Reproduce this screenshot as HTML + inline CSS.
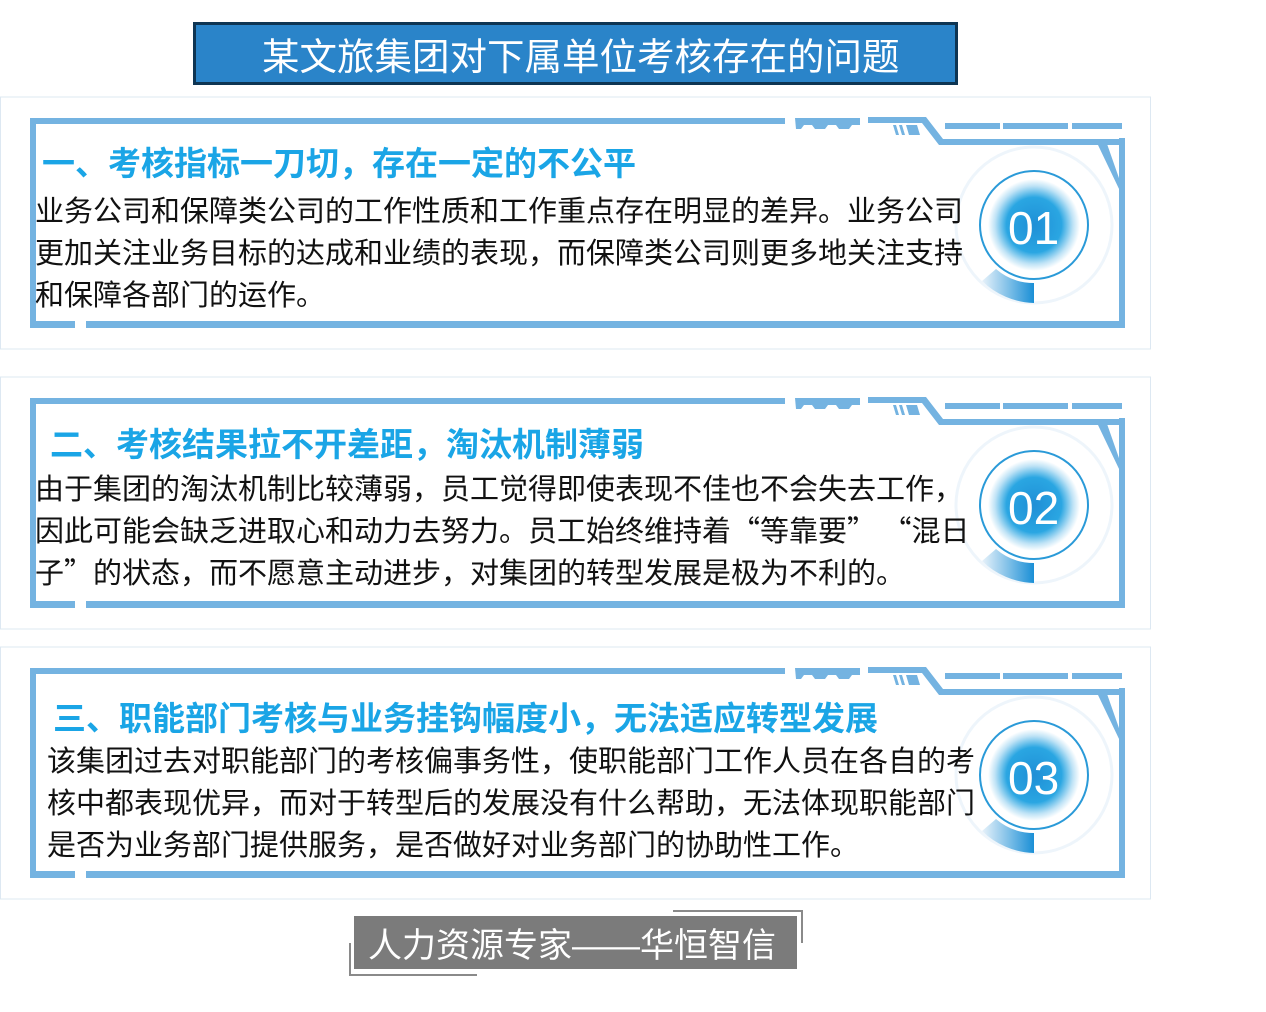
<!DOCTYPE html>
<html><head><meta charset="utf-8"><style>
body{margin:0;width:1266px;height:1012px;background:#fff;position:relative;overflow:hidden;font-family:"Liberation Sans","Noto Sans CJK SC",sans-serif}
.t{position:absolute;white-space:nowrap}
.h{font-weight:bold;color:#1aa5e6;font-size:33px}
.b{color:#111;font-size:29px;line-height:42px}
.q{font-family:"Noto Sans CJK SC",sans-serif}
</style></head><body>
<svg width="1266" height="1012" style="position:absolute;left:0;top:0">
<defs>
<radialGradient id="g" cx="50%" cy="50%" r="50%"><stop offset="0" stop-color="#1f8fd6"/><stop offset="0.6" stop-color="#2aa6e2"/><stop offset="0.85" stop-color="#bfe3f6"/><stop offset="1" stop-color="#ffffff"/></radialGradient>
<linearGradient id="arc" x1="0" y1="0" x2="1" y2="0"><stop offset="0" stop-color="#e8f2fa"/><stop offset="1" stop-color="#1a8fd6"/></linearGradient>
<g id="panel">
<rect x="0.5" y="-21" width="1150" height="252" fill="none" stroke="#dde8f2"/>
<g fill="#74b3e1">
<rect x="30" y="0" width="755" height="6"/>
<rect x="30" y="0" width="6" height="208"/>
<rect x="30" y="203" width="45" height="7"/>
<rect x="86" y="203" width="1038" height="7"/>
<path d="M795 0h65v7h-8l-3 4h-10l-3-4h-8l-3 4h-10l-3-4h-8l-3 4h-5z"/>
<path d="M868 -1h58l17 22h177v6h-181l-17-22h-54z"/>
<rect x="945" y="5" width="55" height="6"/>
<rect x="1003" y="5" width="65" height="6"/>
<rect x="1072" y="5" width="50" height="6"/>
<rect x="1119" y="20" width="6" height="190"/>
<path d="M1098 27l8 -4 14 40v10z"/>
<path d="M893 7h3l3 10h-3zM899 7h3l3 10h-3zM906 7h11l3 10h-11z"/>
</g>
<circle cx="1034" cy="107" r="78" fill="none" stroke="#eef5fb" stroke-width="3"/>
<path d="M996 151 A58 58 0 0 0 1034 165 L1034 185 A78 78 0 0 1 982 163Z" fill="url(#arc)"/>
<circle cx="1034" cy="107" r="54" fill="#fff" stroke="#2a9ad8" stroke-width="2"/>
<circle cx="1034" cy="107" r="46" fill="url(#g)"/>
</g>
</defs>
<rect x="194.5" y="23.5" width="762" height="60" fill="#2a84c9" stroke="#0e3553" stroke-width="3"/>
<use href="#panel" transform="translate(0,118)"/>
<use href="#panel" transform="translate(0,398)"/>
<use href="#panel" transform="translate(0,668)"/>
<rect x="354" y="916" width="443" height="53" fill="#7b7b7b"/>
<path d="M350 943V975H477" fill="none" stroke="#8a8a8a" stroke-width="2"/>
<path d="M673 911H802V943" fill="none" stroke="#8a8a8a" stroke-width="2"/>
</svg>
<div class="t" style="left:262px;top:26px;font-size:37.5px;color:#fff">某文旅集团对下属单位考核存在的问题</div>
<div class="t h" style="left:42px;top:137px">一、考核指标一刀切，存在一定的不公平</div>
<div class="t b" style="left:35px;top:191px">业务公司和保障类公司的工作性质和工作重点存在明显的差异。业务公司<br>更加关注业务目标的达成和业绩的表现，而保障类公司则更多地关注支持<br>和保障各部门的运作。</div>
<div class="t" style="left:1008px;top:201px;font-size:46px;color:#fff">01</div>
<div class="t h" style="left:50px;top:418px">二、考核结果拉不开差距，淘汰机制薄弱</div>
<div class="t b" style="left:35px;top:469px">由于集团的淘汰机制比较薄弱，员工觉得即使表现不佳也不会失去工作，</div>
<div class="t b" style="left:35px;top:508px">因此可能会缺乏进取心和动力去努力。员工始终维持着<span class="q">“</span>等靠要<span class="q">” “</span>混日</div>
<div class="t b" style="left:35px;top:550px">子<span class="q">”</span>的状态，而不愿意主动进步，对集团的转型发展是极为不利的。</div>
<div class="t" style="left:1008px;top:481px;font-size:46px;color:#fff">02</div>
<div class="t h" style="left:53px;top:692px">三、职能部门考核与业务挂钩幅度小，无法适应转型发展</div>
<div class="t b" style="left:47px;top:741px">该集团过去对职能部门的考核偏事务性，使职能部门工作人员在各自的考<br>核中都表现优异，而对于转型后的发展没有什么帮助，无法体现职能部门<br>是否为业务部门提供服务，是否做好对业务部门的协助性工作。</div>
<div class="t" style="left:1008px;top:751px;font-size:46px;color:#fff">03</div>
<div class="t" style="left:368px;top:918px;font-size:34px;color:#fff">人力资源专家——华恒智信</div>
</body></html>
